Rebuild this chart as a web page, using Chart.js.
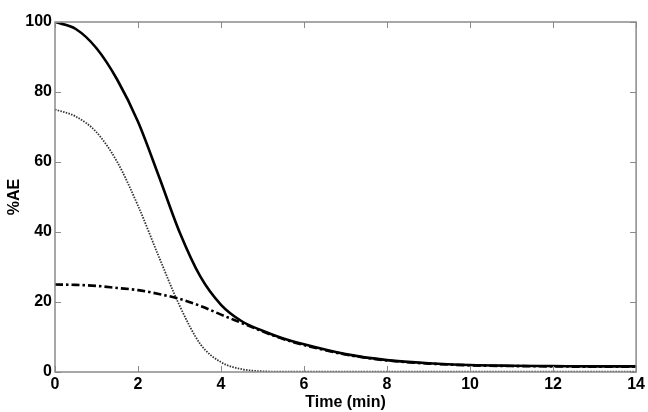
<!DOCTYPE html>
<html>
<head>
<meta charset="utf-8">
<script src="https://cdn.jsdelivr.net/npm/chart.js@4/dist/chart.umd.min.js"></script>
<style>
html,body{margin:0;padding:0;background:#fff;}
#wrap{width:648px;height:412px;position:relative;}
</style>
</head>
<body>
<div id="wrap"><canvas id="c" width="648" height="412"></canvas></div>
<script>
const timeMin = [0,0.5,1,1.5,2,2.5,3,3.5,4,4.5,5,5.5,6,7,8,9,10,11,12,13,14];
const totalAE = [100,98,92.5,83.5,71.5,56,40,27.3,19.2,14.5,11.8,9.6,7.9,5.1,3.4,2.5,2.0,1.8,1.7,1.6,1.6];
const fastAE  = [75,73,68.5,60,47.5,33,19,8,2.8,0.8,0.2,0.1,0.1,0.1,0.1,0.1,0.1,0.1,0.1,0.1,0.1];
const slowAE  = [25,24.9,24.6,24.0,23.4,22.3,20.9,18.9,16.4,14.0,11.6,9.4,7.7,5.0,3.3,2.4,1.9,1.7,1.6,1.5,1.5];
const xTicks = [0,2,4,6,8,10,12,14];
const yTicks = [0,20,40,60,80,100];
const xTitle = 'Time (min)';
const yTitle = '%AE';

const FONT = '"Liberation Sans",Arial,Helvetica,sans-serif';
const pts = arr => arr.map((v,i)=>({x:timeMin[i], y:v}));

const frame = {
  id:'frame',
  afterDatasetsDraw(chart){
    const {ctx, chartArea:a, scales:{x,y}} = chart;
    ctx.save();
    ctx.strokeStyle = '#8a8a8a';
    ctx.lineWidth = 1.5;
    ctx.beginPath();
    ctx.rect(a.left, a.top, a.right-a.left, a.bottom-a.top);
    ctx.stroke();
    ctx.lineWidth = 1;
    ctx.beginPath();
    const L = 6;
    xTicks.forEach(t=>{
      const px = Math.round(x.getPixelForValue(t))+0.5;
      ctx.moveTo(px,a.bottom); ctx.lineTo(px,a.bottom-L);
      ctx.moveTo(px,a.top); ctx.lineTo(px,a.top+L);
    });
    yTicks.forEach(t=>{
      const py = Math.round(y.getPixelForValue(t))+0.5;
      ctx.moveTo(a.left,py); ctx.lineTo(a.left+L,py);
      ctx.moveTo(a.right,py); ctx.lineTo(a.right-L,py);
    });
    ctx.stroke();
    ctx.restore();
  }
};

new Chart(document.getElementById('c'), {
  type:'line',
  data:{
    datasets:[
      {data:pts(totalAE), borderColor:'#000', borderWidth:2.6, pointRadius:0, cubicInterpolationMode:'monotone'},
      {data:pts(slowAE), borderColor:'#000', borderWidth:2.6, borderDash:[8,3,2.5,3], pointRadius:0, cubicInterpolationMode:'monotone'},
      {data:pts(fastAE), borderColor:'#333', borderWidth:1.8, borderDash:[1.5,1.3], pointRadius:0, cubicInterpolationMode:'monotone'}
    ]
  },
  options:{
    responsive:false,
    animation:false,
    events:[],
    layout:{padding:{left:0,right:8,top:22,bottom:0}},
    plugins:{legend:{display:false}, tooltip:{enabled:false}},
    scales:{
      x:{
        type:'linear', min:0, max:14,
        afterBuildTicks(s){ s.ticks = xTicks.map(v=>({value:v})); },
        afterFit(s){ s.height = 40; },
        grid:{display:false, drawTicks:false},
        border:{display:false},
        ticks:{color:'#000', padding:3, maxRotation:0, font:{family:FONT, size:16, weight:'bold'}},
        title:{display:true, text:xTitle, color:'#000', padding:{top:0,bottom:0}, font:{family:FONT, size:16, weight:'bold'}}
      },
      y:{
        type:'linear', min:0, max:100,
        afterBuildTicks(s){ s.ticks = yTicks.map(v=>({value:v})); },
        afterFit(s){ s.width = 55; },
        grid:{display:false, drawTicks:false},
        border:{display:false},
        ticks:{color:'#000', padding:3, font:{family:FONT, size:16, weight:'bold'}},
        title:{display:true, text:yTitle, color:'#000', padding:{top:5,bottom:0}, font:{family:FONT, size:16, weight:'bold'}}
      }
    }
  },
  plugins:[frame]
});
</script>
</body>
</html>
